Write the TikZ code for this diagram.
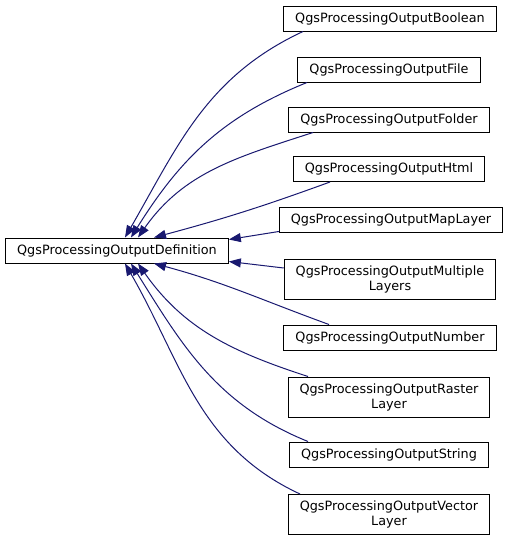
\documentclass[tikz,border=0pt]{standalone}
\usepackage{fontspec}
\setmainfont{DejaVu Sans}
\usetikzlibrary{arrows.meta}
\definecolor{edgeblue}{HTML}{191970}

\begin{document}
\begin{tikzpicture}[x=1pt,y=-1pt,
	cls/.style={draw=black, line width=1pt, fill=white, inner xsep=11.5pt, inner ysep=0pt,
		minimum height=25pt, align=center, font=\fontsize{12.8}{15}\selectfont},
	cls2/.style={cls, minimum height=40pt},
	inh/.style={draw=edgeblue, line width=1pt, -{Triangle[length=12pt,width=9pt]}}]
\useasboundingbox (0,0) rectangle (507,541);

% base class
\node[cls] (def) at (117,250.5) {QgsProcessingOutputDefinition};

% derived classes
\node[cls] (bool) at (390,18.5) {QgsProcessingOutputBoolean};
\node[cls] (file) at (389,69.5) {QgsProcessingOutputFile};
\node[cls] (folder) at (389,119.5) {QgsProcessingOutputFolder};
\node[cls] (html) at (389,169) {QgsProcessingOutputHtml};
\node[cls] (map) at (391,219.5) {QgsProcessingOutputMapLayer};
\node[cls2] (multi) at (390,279) {QgsProcessingOutputMultiple\\Layers};
\node[cls] (number) at (390,337.5) {QgsProcessingOutputNumber};
\node[cls2] (raster) at (389,397) {QgsProcessingOutputRaster\\Layer};
\node[cls] (string) at (389,454.5) {QgsProcessingOutputString};
\node[cls2] (vector) at (389,514.5) {QgsProcessingOutputVector\\Layer};

% inheritance edges
\draw[inh] ([xshift=-87pt]bool.south) to[out=205,in=60] ([xshift=8pt]def.north);
\draw[inh] ([xshift=-82pt]file.south) to[out=202,in=58] ([xshift=14pt]def.north);
\draw[inh] ([xshift=-76pt]folder.south) to[out=198,in=55] ([xshift=21pt]def.north);
\draw[inh] ([xshift=-59pt]html.south) to[out=200,in=15] ([xshift=37pt]def.north);
\draw[inh] ([yshift=1pt]map.south west) -- ([yshift=11pt]def.east);
\draw[inh] ([yshift=11pt]multi.west) -- ([yshift=-11pt]def.east);
\draw[inh] ([xshift=-61pt]number.north) to[out=160,in=-15] ([xshift=37pt]def.south);
\draw[inh] ([xshift=-81pt]raster.north) to[out=162,in=-55] ([xshift=21pt]def.south);
\draw[inh] ([xshift=-81pt]string.north) to[out=158,in=-58] ([xshift=14pt]def.south);
\draw[inh] ([xshift=-89pt]vector.north) to[out=155,in=-60] ([xshift=8pt]def.south);
\end{tikzpicture}
\end{document}
